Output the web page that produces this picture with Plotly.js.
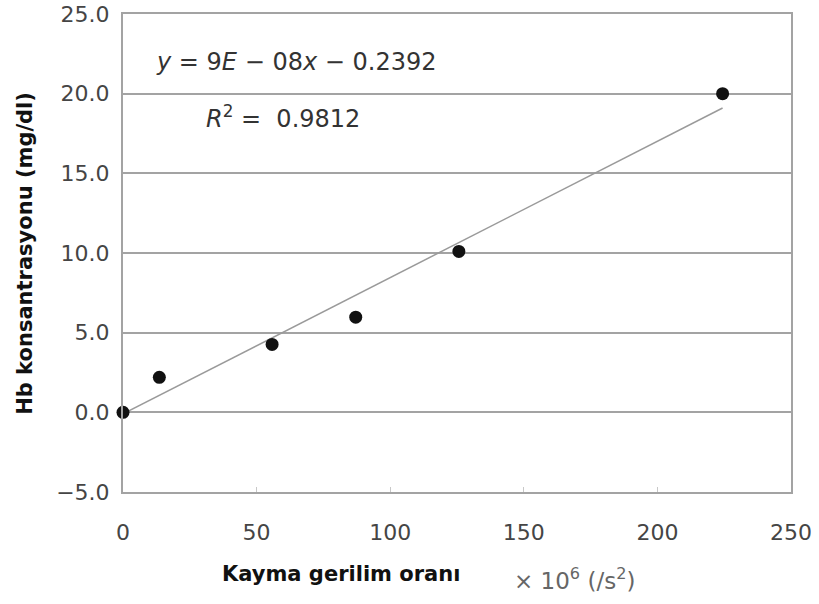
<!DOCTYPE html>
<html>
<head>
<meta charset="utf-8">
<script src="https://cdn.plot.ly/plotly-3.0.1.min.js"></script>
<style>html,body{margin:0;padding:0;background:#fff;}#chart{width:819px;height:604px;}</style>
</head>
<body>
<div id="chart"></div>
<script>
// Data
const shearRate = [0, 13.6, 55.8, 87.1, 125.7, 224.4];   // ×10^6 /s²
const hbConc    = [0.0, 2.2, 4.26, 5.97, 10.1, 20.0];    // mg/dl
const trendX = [0, 224.4];
const trendY = [-0.1, 19.1];
const yTicks = [-5, 0, 5, 10, 15, 20, 25];
const xTicks = [0, 50, 100, 150, 200, 250];
const eqText = "<i>y</i> = 9<i>E</i> − 08<i>x</i> − 0.2392";
const r2Text = "<i>R</i><sup>2</sup> =  0.9812";
const xTitle = "<b>Kayma gerilim oranı</b>";
const xUnit = "× 10<sup>6</sup> (/s<sup>2</sup>)";
const yTitle = "<b>Hb konsantrasyonu (mg/dl)</b>";

const grey = "#a3a3a3";
const font = "DejaVu Sans, sans-serif";
const tickCol = "#454545";

const traces = [
  {x: trendX, y: trendY, mode: "lines", line: {color: "#9a9a9a", width: 1.5}, hoverinfo: "skip", cliponaxis: false},
  {x: shearRate, y: hbConc, mode: "markers", marker: {color: "#111", size: 13}, cliponaxis: false}
];

const layout = {
  width: 819, height: 604,
  margin: {l: 123, r: 28, t: 14, b: 112},
  paper_bgcolor: "#fff", plot_bgcolor: "#fff",
  showlegend: false,
  font: {family: font, size: 22, color: tickCol},
  xaxis: {
    range: [0, 250], tickvals: xTicks, ticktext: xTicks.map(String),
    showgrid: false, zeroline: false,
    showline: true, mirror: true, linecolor: grey, linewidth: 2,
    ticks: "inside", ticklen: 5, tickcolor: "#c8c8c8", tickwidth: 1,
    tickfont: {family: font, size: 22, color: tickCol}, ticklabelstandoff: 20
  },
  yaxis: {
    range: [-5, 25], tickvals: yTicks, ticktext: yTicks.map(v => (v < 0 ? "−" : "") + Math.abs(v).toFixed(1)),
    showgrid: true, gridcolor: grey, gridwidth: 2,
    zeroline: true, zerolinecolor: grey, zerolinewidth: 2,
    showline: true, mirror: true, linecolor: grey, linewidth: 2,
    ticks: "", tickfont: {family: font, size: 22, color: tickCol}, ticklabelstandoff: 7
  },
  annotations: [
    {text: eqText, xref: "paper", yref: "paper", x: 0.046, y: 0.9, xanchor: "left", yanchor: "middle", showarrow: false, font: {family: font, size: 24, color: "#333"}},
    {text: r2Text, xref: "paper", yref: "paper", x: 0.121, y: 0.785, xanchor: "left", yanchor: "middle", showarrow: false, font: {family: font, size: 24, color: "#333"}},
    {text: xTitle, xref: "paper", yref: "paper", x: 0.326, y: -0.172, xanchor: "center", yanchor: "middle", showarrow: false, font: {family: font, size: 21, color: "#111"}},
    {text: xUnit, xref: "paper", yref: "paper", x: 0.582, y: -0.182, xanchor: "left", yanchor: "middle", showarrow: false, font: {family: font, size: 23, color: "#666"}},
    {text: yTitle, xref: "paper", yref: "paper", x: -0.147, y: 0.5, xanchor: "center", yanchor: "middle", textangle: -90, showarrow: false, font: {family: font, size: 21, color: "#111"}}
  ]
};

Plotly.newPlot("chart", traces, layout, {displayModeBar: false, staticPlot: true});
</script>
</body>
</html>
